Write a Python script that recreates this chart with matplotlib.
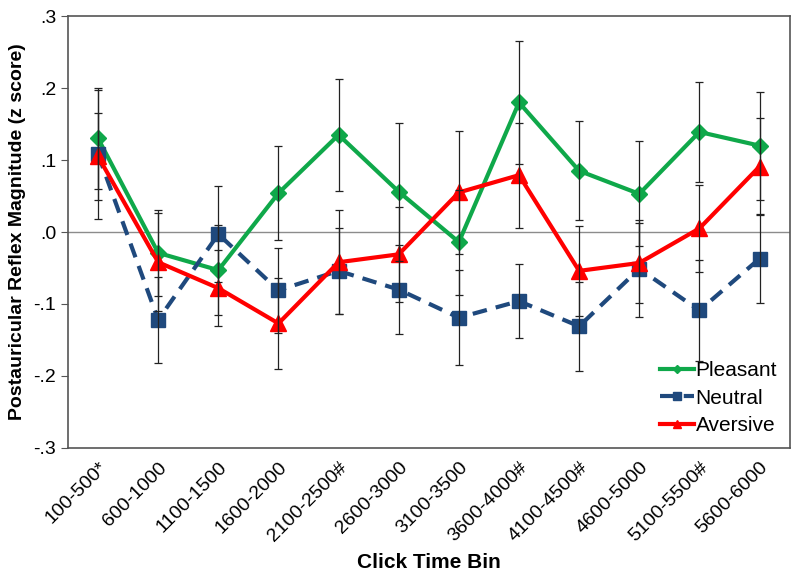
import matplotlib.pyplot as plt
import numpy as np

plt.rcParams['font.family'] = ['Liberation Sans', 'DejaVu Sans']

bins = ['100-500*', '600-1000', '1100-1500', '1600-2000', '2100-2500#', '2600-3000',
        '3100-3500', '3600-4000#', '4100-4500#', '4600-5000', '5100-5500#', '5600-6000']

pleasant = [0.130, -0.029, -0.053, 0.054, 0.135, 0.056, -0.014, 0.180, 0.085, 0.053, 0.139, 0.120]
neutral = [0.108, -0.122, -0.003, -0.081, -0.054, -0.080, -0.119, -0.096, -0.131, -0.051, -0.109, -0.037]
aversive = [0.105, -0.042, -0.078, -0.127, -0.042, -0.031, 0.055, 0.079, -0.054, -0.043, 0.005, 0.091]

pleasant_err = [0.070, 0.060, 0.063, 0.065, 0.078, 0.096, 0.073, 0.085, 0.069, 0.073, 0.069, 0.075]
neutral_err = [0.090, 0.060, 0.067, 0.059, 0.060, 0.062, 0.066, 0.051, 0.062, 0.067, 0.070, 0.062]
aversive_err = [0.060, 0.068, 0.053, 0.063, 0.072, 0.066, 0.086, 0.073, 0.063, 0.055, 0.061, 0.068]

x = np.arange(len(bins))

fig = plt.figure(figsize=(8, 5.75), dpi=100)
ax = fig.add_axes([0.085, 0.221, 0.902, 0.751])

ax.axhline(0, color='#8c8c8c', lw=1, zorder=1)

series = [
    ('Pleasant', pleasant, pleasant_err, '#0fa84a', 'D', '-', 8),
    ('Neutral', neutral, neutral_err, '#1f497d', 's', (0, (3.5, 2.2)), 10),
    ('Aversive', aversive, aversive_err, '#ff0000', '^', '-', 11),
]

for name, vals, errs, col, mk, ls, ms in series:
    ax.plot(x, vals, color=col, lw=3, ls=ls, marker=mk, ms=ms,
            markeredgecolor=col, label=name, zorder=3)
    ax.errorbar(x, vals, yerr=errs, fmt='none', ecolor='#222222',
                elinewidth=0.9, capsize=3, capthick=0.9, zorder=4)

ax.set_xlim(-0.5, len(bins) - 0.5)
ax.set_ylim(-0.3, 0.3)
ax.set_yticks([-0.3, -0.2, -0.1, 0.0, 0.1, 0.2, 0.3])
ax.set_yticklabels(['-.3', '-.2', '-.1', '.0', '.1', '.2', '.3'], fontsize=14)
ax.set_xticks(x)
ax.set_xticklabels(bins, rotation=45, ha='right', rotation_mode='anchor', fontsize=14)
ax.tick_params(axis='x', length=0, pad=8)
ax.tick_params(axis='y', length=5, direction='out', color='#555555')

for s in ax.spines.values():
    s.set_color('#555555')
    s.set_linewidth(1.2)

ax.set_ylabel('Postauricular Reflex Magnitude (z score)', fontsize=14, fontweight='bold',
              labelpad=5)
ax.set_xlabel('Click Time Bin', fontsize=15, fontweight='bold', labelpad=6)

leg = ax.legend(loc='lower right', frameon=False, fontsize=15, markerscale=0.55,
                handlelength=1.6, handletextpad=0.1, labelspacing=0.42,
                borderaxespad=0.2)

fig.savefig('out.png', dpi=100)
